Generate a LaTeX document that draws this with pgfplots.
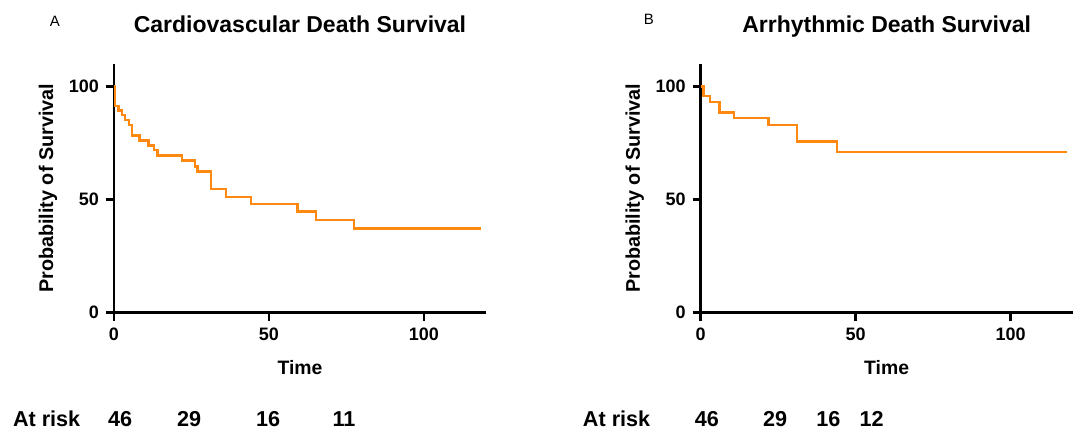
\documentclass[border=0pt]{standalone}
\usepackage{pgfplots}
\pgfplotsset{compat=1.18}
\usepackage{fontspec}
\setmainfont{Liberation Sans}
\definecolor{kmorange}{RGB}{255,136,17}
\pgfplotsset{
  kmaxis/.style={
    scale only axis, width=186pt, height=124.35pt,
    xmin=0, xmax=120, ymin=0, ymax=110,
    axis lines=left,
    axis line style={line width=1.3pt, -, black},
    xtick={0,50,100}, ytick={0,50,100},
    tick align=outside, major tick length=4pt,
    tick style={line width=1.3pt, black},
    every tick label/.append style={font=\fontsize{9}{10}\selectfont\bfseries},
    /pgf/number format/assume math mode=true,
    xlabel={Time}, ylabel={Probability of Survival},
    xlabel style={at={(axis description cs:0.5,-0.221)}, anchor=center, font=\fontsize{9.7}{11}\selectfont\bfseries},
    ylabel style={at={(axis description cs:-0.1774,0.5)}, anchor=center, font=\fontsize{9.9}{11}\selectfont\bfseries},
    clip=false,
  },
  kmline/.style={const plot, no marks, color=kmorange, line width=1.2pt},
}
\begin{document}
\begin{tikzpicture}
\path[use as bounding box] (0,0) rectangle (541.5pt,-219.5pt);
\begin{axis}[kmaxis, at={(57pt,-156.35pt)}, anchor=south west]
\addplot[kmline] coordinates {
(0,100) (0.3,91.4) (1.4,89.4) (2.5,87.5) (3.5,85.3) (4.9,83) (5.9,78.3) (8.2,76.1) (11.1,73.9) (12.9,72) (14,69.5) (22,67.3) (26.1,64.6) (27,62.4) (31.2,54.6) (36.1,51.3) (44.2,48.1) (59.2,44.7) (65.2,41) (77.4,37.2) (118.4,37.2)
};
\node[anchor=base, font=\fontsize{11.5}{13}\selectfont\bfseries] at (axis description cs:0.5,1.125) {Cardiovascular Death Survival};
\node[anchor=base, font=\fontsize{7.5}{9}\selectfont] at (axis description cs:-0.1586,1.149) {A};
\node[anchor=base west, inner sep=0pt, font=\fontsize{10.8}{12}\selectfont\bfseries] at (axis cs:-32.7,-50.4) {At risk};
\node[anchor=base, inner sep=0pt, font=\fontsize{10.8}{12}\selectfont\bfseries] at (axis cs:1.94,-50.4) {46};
\node[anchor=base, inner sep=0pt, font=\fontsize{10.8}{12}\selectfont\bfseries] at (axis cs:24.2,-50.4) {29};
\node[anchor=base, inner sep=0pt, font=\fontsize{10.8}{12}\selectfont\bfseries] at (axis cs:49.7,-50.4) {16};
\node[anchor=base, inner sep=0pt, font=\fontsize{10.8}{12}\selectfont\bfseries] at (axis cs:74.2,-50.4) {11};
\end{axis}
\begin{axis}[kmaxis, at={(350.35pt,-156.35pt)}, anchor=south west]
\addplot[kmline] coordinates {
(0,100) (0.9,95.9) (3,93.1) (6,88.5) (10.8,86) (21.9,83) (31,75.7) (44,71.2) (118.3,71.2)
};
\node[anchor=base, font=\fontsize{11.5}{13}\selectfont\bfseries] at (axis description cs:0.5,1.125) {Arrhythmic Death Survival};
\node[anchor=base, font=\fontsize{7.5}{9}\selectfont] at (axis description cs:-0.139,1.157) {B};
\node[anchor=base west, inner sep=0pt, font=\fontsize{10.8}{12}\selectfont\bfseries] at (axis cs:-38.1,-50.4) {At risk};
\node[anchor=base, inner sep=0pt, font=\fontsize{10.8}{12}\selectfont\bfseries] at (axis cs:2.0,-50.4) {46};
\node[anchor=base, inner sep=0pt, font=\fontsize{10.8}{12}\selectfont\bfseries] at (axis cs:24.0,-50.4) {29};
\node[anchor=base, inner sep=0pt, font=\fontsize{10.8}{12}\selectfont\bfseries] at (axis cs:41.2,-50.4) {16};
\node[anchor=base, inner sep=0pt, font=\fontsize{10.8}{12}\selectfont\bfseries] at (axis cs:55.1,-50.4) {12};
\end{axis}
\end{tikzpicture}
\end{document}
